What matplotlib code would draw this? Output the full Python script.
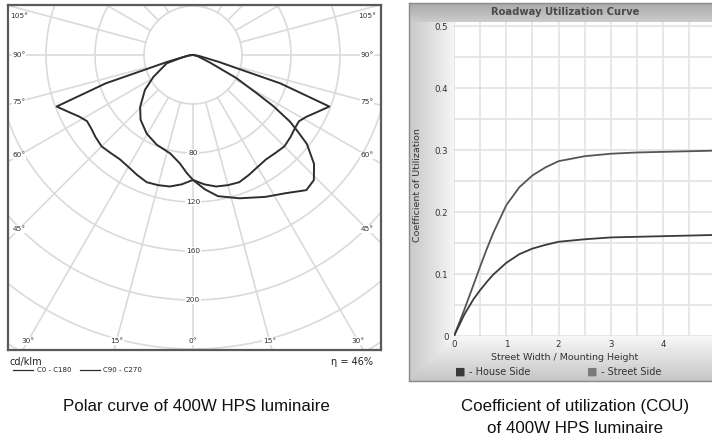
import numpy as np
import matplotlib
matplotlib.use("Agg")
import matplotlib.pyplot as plt

# polar curve, cd/klm against angle from nadir (degrees)
c0_c180_angle = [0, 5, 10, 15, 20, 25, 30, 35, 40, 45, 50, 54, 58, 61.5, 65, 69.3, 72, 75, 80, 85, 90]
c0_c180_cd = [102, 106, 109, 110, 110.5, 108, 105.5, 104, 104.5, 105.5, 104, 102.5, 102, 105.5, 111, 119, 75, 22, 6, 2, 0]

c90_angle = [0, 5, 10, 18, 27, 34, 40, 44, 48, 52, 54, 55.5, 57.5, 59, 62, 66, 75, 90]
c90_cd = [102, 110, 117, 123, 130, 136, 144, 142, 133, 118, 105, 96, 78, 61, 40, 15, 4, 0]

c270_angle = [0, 3, 7, 13, 22, 30.5, 39, 45.5, 54, 61, 72.5, 76, 85, 90]
c270_cd = [102, 96.5, 89, 82.5, 79, 74.5, 68, 60.5, 48.5, 37, 22.5, 11, 3, 0]

ring_values = [40, 80, 120, 160, 200, 240, 280]
ring_labels = [80, 120, 160, 200]
side_angles = [45, 60, 75, 90, 105]
bottom_angles = [0, 15, 30]

# roadway utilization curve
ratio = [0, 0.2, 0.37, 0.5, 0.625, 0.75, 1.0, 1.25, 1.5, 1.75, 2.0, 2.5, 3.0, 3.5, 4.0, 4.5, 5.0]
street_side = [0, 0.043, 0.082, 0.112, 0.14, 0.166, 0.211, 0.24, 0.259, 0.272, 0.282, 0.29, 0.294, 0.296, 0.297, 0.298, 0.299]
house_side = [0, 0.035, 0.059, 0.074, 0.087, 0.099, 0.118, 0.132, 0.141, 0.147, 0.152, 0.156, 0.159, 0.16, 0.161, 0.162, 0.163]
x_ticks = [0, 1, 2, 3, 4, 5]
y_ticks = [0, 0.1, 0.2, 0.3, 0.4, 0.5]

W, H = 712, 440


def fx(x):
    return x / W


def fy(y):
    return 1 - y / H


fig = plt.figure(figsize=(7.12, 4.40), dpi=100)
fig.patch.set_facecolor("white")

# ---------------- polar curve ----------------
k = 1.225  # px per cd/klm
cx, cy = 193, 55
bl, bt, br, bb = 8, 5, 381, 350
ax = fig.add_axes([fx(bl), fy(bb), (br - bl) / W, (bb - bt) / H])
ax.set_xlim((bl - cx) / k, (br - cx) / k)
ax.set_ylim((bb - cy) / k, (bt - cy) / k)
ax.set_xticks([])
ax.set_yticks([])
for s in ax.spines.values():
    s.set_color("#5a5a5a")
    s.set_linewidth(1.6)

grid_c = "#dadada"
t = np.linspace(0, 2 * np.pi, 400)
for rv in ring_values:
    ax.plot(rv * np.sin(t), rv * np.cos(t), color=grid_c, lw=1.2, zorder=1)
for a in range(0, 360, 15):
    ar = np.radians(a)
    ax.plot([40 * np.sin(ar), 400 * np.sin(ar)], [40 * np.cos(ar), 400 * np.cos(ar)],
            color=grid_c, lw=1.2, zorder=1)

lab_kw = dict(fontsize=5.3, color="#333333", ha="center", va="center", zorder=4,
              bbox=dict(facecolor="white", edgecolor="none", pad=0.6))
for rv in ring_labels:
    ax.text(0, rv, str(rv), **lab_kw)
d_side = 174 / k
top_lim = (16 - cy) / k
for a in side_angles:
    yy = d_side / np.tan(np.radians(a)) if a != 90 else 0
    yy = max(yy, top_lim)
    ax.text(-d_side, yy, f"{a}°", **lab_kw)
    ax.text(d_side, yy, f"{a}°", **lab_kw)
d_bot = (341 - cy) / k
for a in bottom_angles:
    xx = d_bot * np.tan(np.radians(a))
    ax.text(-xx, d_bot, f"{a}°", **lab_kw)
    if a:
        ax.text(xx, d_bot, f"{a}°", **lab_kw)


def polar_xy(angles, values, side):
    ar = np.radians(angles)
    v = np.array(values)
    return side * v * np.sin(ar), v * np.cos(ar)


curve_c = "#2e2e2e"
x1, y1 = polar_xy(c0_c180_angle, c0_c180_cd, 1)
x2, y2 = polar_xy(c0_c180_angle, c0_c180_cd, -1)
ax.plot(np.concatenate([x2[::-1], x1]), np.concatenate([y2[::-1], y1]), color=curve_c, lw=1.4, zorder=3)
x1, y1 = polar_xy(c90_angle, c90_cd, 1)
x2, y2 = polar_xy(c270_angle, c270_cd, -1)
ax.plot(np.concatenate([x2[::-1], x1]), np.concatenate([y2[::-1], y1]), color=curve_c, lw=1.4, zorder=3)

fig.text(fx(10), fy(362), "cd/klm", fontsize=7, color="#222222", va="center")
fig.text(fx(373), fy(362), "η = 46%", fontsize=7, color="#222222", va="center", ha="right")
fig.add_artist(plt.Line2D([fx(13), fx(33)], [fy(370), fy(370)], color=curve_c, lw=0.9))
fig.text(fx(37), fy(370), "C0 - C180", fontsize=5, color="#222222", va="center")
fig.add_artist(plt.Line2D([fx(80), fx(100)], [fy(370), fy(370)], color=curve_c, lw=0.9))
fig.text(fx(103), fy(370), "C90 - C270", fontsize=5, color="#222222", va="center")

# ---------------- utilization curve ----------------
fl, ft, fr, fb = 409, 3, 760, 381
pl, pt, pb = 454, 22, 336
ux = 52.3
frame = fig.add_axes([fx(fl), fy(fb), (fr - fl) / W, (fb - ft) / H])
yy, xx = np.mgrid[ft:fb, fl:fr] + 0.5
left_g = 0.78 + 0.18 * np.clip((xx - fl) / (pl - fl), 0, 1)
bot_g = 0.97 - 0.20 * np.clip((yy - pb) / (fb - pb), 0, 1)
bg = np.minimum(left_g, bot_g)
title_band = yy < pt
bg[title_band] = (0.66 + 0.14 * (yy - ft) / (pt - ft))[title_band]
frame.imshow(bg, cmap="gray", vmin=0, vmax=1, extent=[fl, fr, fb, ft], aspect="auto",
             interpolation="bilinear")
frame.set_xlim(fl, fr)
frame.set_ylim(fb, ft)
frame.set_xticks([])
frame.set_yticks([])
for s in frame.spines.values():
    s.set_color("#8a8a8a")
    s.set_linewidth(1.0)

ax2 = fig.add_axes([fx(pl), fy(pb), 5.5 * ux / W, (pb - pt) / H])
ax2.set_xlim(0, 5.5)
ax2.set_ylim(0, (pb - pt) / 620)
ax2.set_facecolor("white")
for s in ax2.spines.values():
    s.set_visible(False)
ax2.set_xticks(x_ticks)
ax2.set_xticklabels([str(v) for v in x_ticks])
ax2.set_yticks(y_ticks)
ax2.set_yticklabels(["0" if v == 0 else f"{v:.1f}" for v in y_ticks])
ax2.set_xticks(np.arange(0, 5.6, 0.5), minor=True)
ax2.set_yticks(np.arange(0, 0.51, 0.05), minor=True)
ax2.tick_params(which="both", length=0, labelsize=6.2, colors="#333333")
ax2.tick_params(axis="x", pad=3)
ax2.tick_params(axis="y", pad=4)
ax2.grid(which="both", color="#e3e3e3", lw=1.2)
ax2.set_axisbelow(True)
ax2.plot(ratio, street_side, color="#555555", lw=1.3)
ax2.plot(ratio, house_side, color="#3a3a3a", lw=1.3)

fig.text(fx(565), fy(12), "Roadway Utilization Curve", fontsize=7.2, fontweight="bold",
         color="#4a4a4a", ha="center", va="center")
fig.text(fx(417), fy(185), "Coefficient of Utilization", fontsize=6.8, color="#333333",
         rotation=90, ha="center", va="center")
fig.text(fx(565), fy(357), "Street Width / Mounting Height", fontsize=6.8, color="#333333",
         ha="center", va="center")
fig.text(fx(460), fy(372), "■", fontsize=8, color="#3a3a3a", ha="center", va="center")
fig.text(fx(469), fy(372), "- House Side", fontsize=7, color="#333333", va="center")
fig.text(fx(592), fy(372), "■", fontsize=8, color="#7a7a7a", ha="center", va="center")
fig.text(fx(601), fy(372), "- Street Side", fontsize=7, color="#333333", va="center")

# captions
cap_font = ["Liberation Sans Narrow", "Liberation Sans", "DejaVu Sans"]
fig.text(fx(196), fy(406), "Polar curve of 400W HPS luminaire", fontsize=12.2,
         family=cap_font, ha="center", va="center", color="#111111")
fig.text(fx(575), fy(406), "Coefficient of utilization (COU)", fontsize=12.2,
         family=cap_font, ha="center", va="center", color="#111111")
fig.text(fx(575), fy(428), "of 400W HPS luminaire", fontsize=12.2,
         family=cap_font, ha="center", va="center", color="#111111")

fig.savefig("out.png", dpi=100)
